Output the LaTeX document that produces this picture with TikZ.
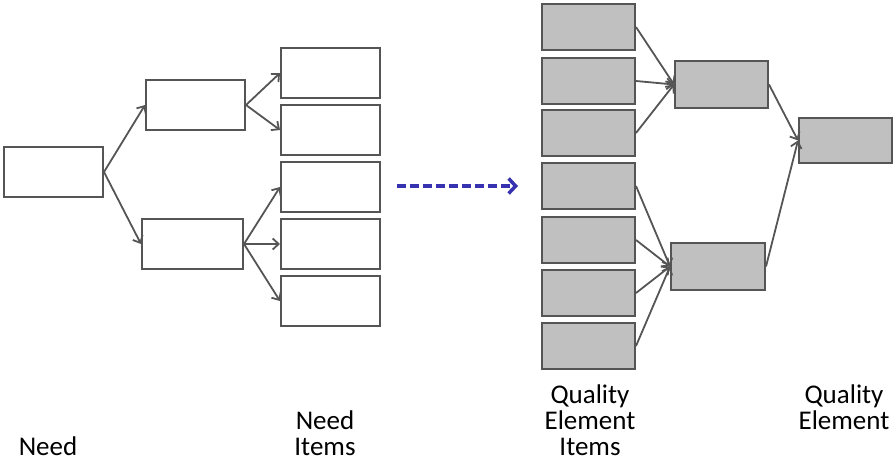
\documentclass[tikz,border=0pt]{standalone}
\usepackage{fontspec}
\setmainfont{Carlito}
\usetikzlibrary{arrows.meta}
\definecolor{edge}{RGB}{85,85,85}
\definecolor{boxgray}{RGB}{192,192,192}
\definecolor{dashblue}{RGB}{55,50,175}
\begin{document}
\begin{tikzpicture}[x=1pt,y=-1pt,
	box/.style={draw=edge,line width=2pt,inner sep=0pt,anchor=north west},
	gbox/.style={box,fill=boxgray},
	link/.style={draw=edge,line width=1.8pt,-{Straight Barb[length=6pt,width=11pt]}},
	lbl/.style={anchor=base,align=center,font=\fontsize{27}{26}\selectfont}]
	\useasboundingbox (0,0) rectangle (894,460);
	\foreach \n/\x/\y/\w in {need/3/146/99,na/145/79/99,nb/141/218/101,i1/280/47/99,i2/280/104/99,i3/280/161/99,i4/280/218/99,i5/280/275/99}
		\node[box,minimum width=\w,minimum height=50] (\n) at (\x,\y) {};
	\foreach \n/\y in {1/3,2/57,3/109,4/162,5/216,6/269,7/322}
		\node[gbox,minimum width=93,minimum height=46] (q\n) at (541,\y) {};
	\node[gbox,minimum width=93,minimum height=47] (ga) at (674,60) {};
	\node[gbox,minimum width=94,minimum height=47] (gb) at (670,242) {};
	\node[gbox,minimum width=93,minimum height=45] (qe) at (798,117) {};
	\foreach \a/\b in {need/na,need/nb,na/i1,na/i2,nb/i3,nb/i4,nb/i5,q1/ga,q2/ga,q3/ga,q4/gb,q5/gb,q6/gb,q7/gb,ga/qe,gb/qe}
		\draw[link] (\a.east) -- (\b.west);
	\coordinate (d1) at (397,186);
	\coordinate (d2) at (518,186);
	\draw[dashblue,line width=3.5pt,dash pattern=on 9pt off 4pt,-{Straight Barb[length=7pt,width=15pt]}] (d1) -- (d2);
	\node[lbl] (lneed) at (48,455) {Need};
	\node[lbl] (litems) at (325,455) {Need\\Items};
	\node[lbl] (lqitems) at (590,455) {Quality\\Element\\Items};
	\node[lbl] (lqe) at (844,429) {Quality\\Element};
\end{tikzpicture}
\end{document}
